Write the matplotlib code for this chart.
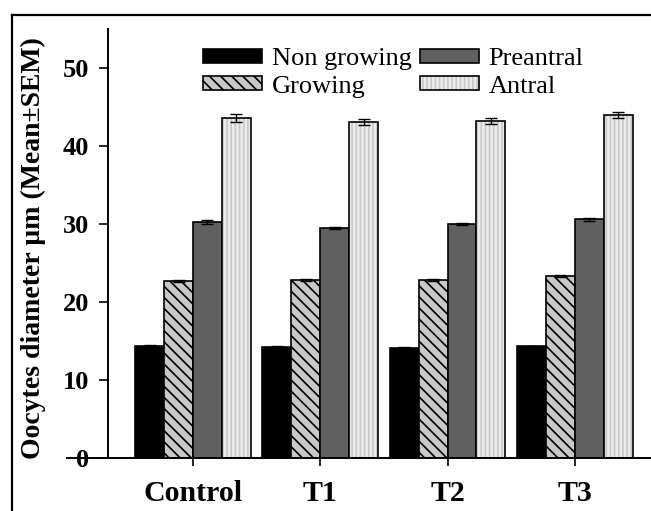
import matplotlib
matplotlib.use("Agg")
import matplotlib.pyplot as plt
import numpy as np
from matplotlib.lines import Line2D
from matplotlib.legend_handler import HandlerTuple

plt.rcParams["font.family"] = ["Liberation Serif", "DejaVu Serif"]
plt.rcParams["hatch.linewidth"] = 1.2

groups = ["Control", "T1", "T2", "T3"]
series = ["Non growing", "Growing", "Preantral", "Antral"]
non_growing = [14.4, 14.2, 14.1, 14.3]
growing = [22.7, 22.8, 22.8, 23.3]
preantral = [30.2, 29.5, 30.0, 30.6]
antral = [43.6, 43.1, 43.2, 44.0]
err_non_growing = [0.12, 0.12, 0.12, 0.12]
err_growing = [0.12, 0.15, 0.15, 0.12]
err_preantral = [0.25, 0.15, 0.15, 0.2]
err_antral = [0.5, 0.4, 0.4, 0.35]

W, H = 651, 511
fig = plt.figure(figsize=(W / 100, H / 100), dpi=100)
ax = fig.add_axes([108 / W, 1 - 458 / H, 1 - 108 / W + 0.01, (458 - 29) / H])

x = np.arange(len(groups))
bw = 0.227
offs = np.array([-1.5, -0.5, 0.5, 1.5]) * bw
ekw = dict(ecolor="black", elinewidth=1.0, capsize=4, capthick=1.0)

h1 = ax.bar(x + offs[0], non_growing, bw, color="black", edgecolor="black",
            linewidth=1.2, yerr=err_non_growing, error_kw=ekw, zorder=2)
h2 = ax.bar(x + offs[1], growing, bw, color="#c8c8c8", edgecolor="black",
            hatch="\\\\\\", linewidth=1.2, yerr=err_growing, error_kw=ekw, zorder=2)
h3 = ax.bar(x + offs[2], preantral, bw, color="#606060", edgecolor="black",
            linewidth=1.2, yerr=err_preantral, error_kw=ekw, zorder=2)
h4a = ax.bar(x + offs[3], antral, bw, color="#ececec", edgecolor="#c8c8c8",
             hatch="||||", linewidth=0, zorder=2)
h4b = ax.bar(x + offs[3], antral, bw, fill=False, edgecolor="black",
             linewidth=1.2, yerr=err_antral, error_kw=ekw, zorder=3)

ax.set_xlim(-0.668, 3.65)
ax.set_ylim(0, 55)
ax.set_yticks([0, 10, 20, 30, 40, 50])
ax.set_xticks(x)
ax.set_xticklabels(groups, fontsize=21.5, fontweight="bold")
ax.tick_params(axis="x", direction="out", length=5.5, width=1.2, pad=10)
ax.tick_params(axis="y", direction="out", length=6.5, width=1.2, labelsize=19, pad=7)
for lab in ax.get_yticklabels():
    lab.set_fontweight("bold")
ax.spines["top"].set_visible(False)
ax.spines["right"].set_visible(False)
ax.spines["left"].set_linewidth(1.4)
ax.spines["bottom"].set_linewidth(1.4)
ax.plot([-0.0755, 0], [0, 0], transform=ax.get_yaxis_transform(), color="black",
        lw=1.4, clip_on=False)

ax.set_ylabel("Oocytes diameter µm (Mean±SEM)", fontsize=20, fontweight="bold")
ax.yaxis.set_label_coords(-0.112, 0.49)

handles = [h1, h2, h3, (h4a, h4b)]
ax.legend(handles, series, ncol=2, frameon=False, fontsize=19,
          handlelength=2.23, handleheight=0.45, handletextpad=0.38,
          columnspacing=0.3, labelspacing=0.22, borderpad=0, borderaxespad=0,
          loc="upper left", bbox_to_anchor=(203 / W, 1 - 48 / H),
          bbox_transform=fig.transFigure,
          handler_map={tuple: HandlerTuple(ndivide=1)})

# outer frame (left and top edges)
fig.add_artist(Line2D([12 / W, 12 / W], [0, 1 - 15 / H], color="black", lw=1.6,
                      transform=fig.transFigure))
fig.add_artist(Line2D([12 / W, 1], [1 - 15 / H, 1 - 15 / H], color="black", lw=1.6,
                      transform=fig.transFigure))

fig.savefig("out.png", dpi=100)
